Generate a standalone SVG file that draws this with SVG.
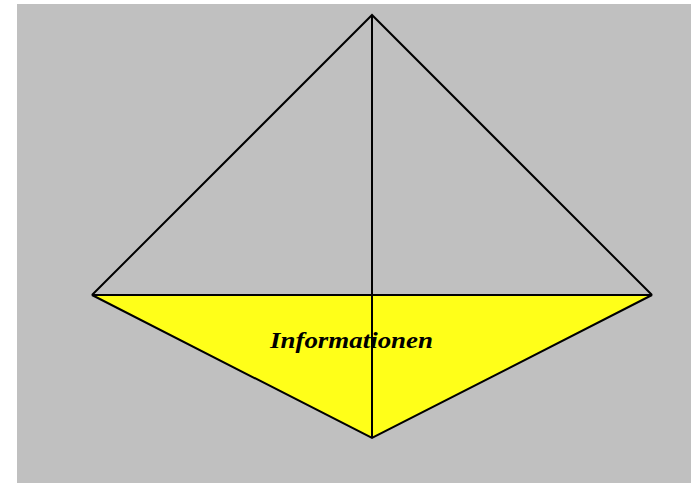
<svg xmlns="http://www.w3.org/2000/svg" width="692" height="483" viewBox="0 0 692 483">
<style>
.ln{stroke:#000;stroke-width:2;fill:none}
.lbl{font-family:"Liberation Serif","Times New Roman",serif;font-weight:bold;font-style:italic;font-size:24px;fill:#000}
</style>
<rect x="0" y="0" width="692" height="483" fill="#fff"/>
<rect x="17" y="4" width="674" height="479" fill="#c0c0c0"/>
<g id="info">
<polygon points="92,295 652,295 372,438" fill="#ffff19" stroke="#000" stroke-width="2"/>
<text class="lbl" x="270" y="348" textLength="163" lengthAdjust="spacingAndGlyphs">Informationen</text>
</g>
<g id="connectors">
<polyline class="ln" points="92,295 372,15 652,295"/>
<line class="ln" x1="372" y1="15" x2="372" y2="438"/>
<line class="ln" x1="92" y1="295" x2="652" y2="295"/>
</g>
</svg>
